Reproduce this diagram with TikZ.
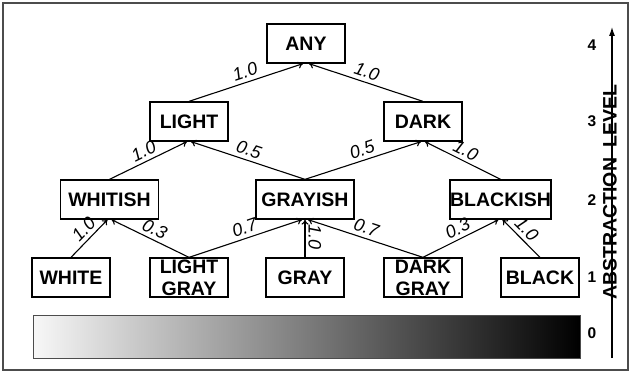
\documentclass[tikz,border=0pt]{standalone}
\usepackage{fontspec}
\setmainfont{Liberation Sans}
\usetikzlibrary{arrows.meta}
\begin{document}
\begin{tikzpicture}[x=1pt,y=1pt,
  box/.style={draw=black,line width=1.3pt,minimum height=39pt,inner sep=0pt,
     font=\fontsize{19.5}{22}\selectfont\bfseries,align=center},
  w78/.style={minimum width=78pt},
  w98/.style={minimum width=98pt},
  w101/.style={minimum width=101pt},
  edge/.style={line width=1.1pt,-{To[length=5pt,width=7pt]}},
  labfont/.style={font=\fontsize{18}{18}\selectfont\itshape},
  lab/.style={labfont,sloped,above,inner sep=3.5pt},
  lvl/.style={font=\fontsize{15.5}{16}\selectfont\bfseries,inner sep=0pt}]
\useasboundingbox (0,0) rectangle (632,373);
\draw[line width=1.4pt,draw=black!70] (3,3) rectangle (628,370);
% nodes (y = 373 - y_img)
\node[box,w78] (any) at (306,329.5) {ANY};
\node[box,w78] (light) at (189,251.5) {LIGHT};
\node[box,w78] (dark) at (423,251.5) {DARK};
\node[box,w98] (whitish) at (109.5,173.5) {WHITISH};
\node[box,w98] (grayish) at (305,173.5) {GRAYISH};
\node[box,w101] (blackish) at (500.5,173.5) {BLACKISH};
\node[box,w78] (white) at (71,95.5) {WHITE};
\node[box,w78] (lgray) at (189,95.5) {LIGHT\\GRAY};
\node[box,w78] (gray) at (305,95.5) {GRAY};
\node[box,w78] (dgray) at (423,95.5) {DARK\\GRAY};
\node[box,w78] (black) at (540,95.5) {BLACK};
% edges
\draw[edge] (light.north) -- ([xshift=-3pt]any.south) node[lab,pos=0.52] {1.0};
\draw[edge] (dark.north) -- ([xshift=3pt]any.south) node[lab,pos=0.52] {1.0};
\draw[edge] (whitish.north) -- ([xshift=-2pt]light.south) node[lab,pos=0.5] {1.0};
\draw[edge] (grayish.north) -- ([xshift=2pt]light.south) node[lab,pos=0.52] {0.5};
\draw[edge] (grayish.north) -- ([xshift=-2pt]dark.south) node[lab,pos=0.52] {0.5};
\draw[edge] (blackish.north) -- ([xshift=2pt]dark.south) node[lab,pos=0.52] {1.0};
\draw[edge] (white.north) -- ([xshift=-2pt]whitish.south) node[lab,pos=0.55] {1.0};
\draw[edge] (lgray.north) -- ([xshift=2pt]whitish.south) node[lab,pos=0.5] {0.3};
\draw[edge] (lgray.north) -- ([xshift=-3pt]grayish.south) node[lab,pos=0.52] {0.7};
\draw[edge] (gray.north) -- (grayish.south) node[pos=0.55,xshift=3pt,rotate=-90,anchor=south,labfont,inner sep=0pt] {1.0};
\draw[edge] (dgray.north) -- ([xshift=3pt]grayish.south) node[lab,pos=0.52] {0.7};
\draw[edge] (dgray.north) -- ([xshift=-2pt]blackish.south) node[lab,pos=0.52] {0.3};
\draw[edge] (black.north) -- ([xshift=2pt]blackish.south) node[lab,pos=0.55] {1.0};
% gradient bar
\shade[left color=black!3,right color=black] (33,15) rectangle (580,58);
\draw[line width=0.8pt,draw=black!70] (33,15) rectangle (580,58);
% levels
\node[lvl] (l4) at (592,327.5) {4};
\node[lvl] (l3) at (592,252) {3};
\node[lvl] (l2) at (592,172.5) {2};
\node[lvl] (l1) at (592,96) {1};
\node[lvl] (l0) at (592,40) {0};
\node[font=\fontsize{19.5}{20}\selectfont\bfseries,rotate=90,inner sep=2pt] (axlab) at (610,181) {ABSTRACTION\ \ LEVEL};
\coordinate (axbot) at (612,15);
\coordinate (axtop) at (612,346);
\draw[line width=1.1pt] (axbot) -- (axbot|-axlab.east);
\draw[line width=1.1pt,-{Latex[length=9pt,width=6pt]}] (axtop|-axlab.west) -- (axtop);
\end{tikzpicture}
\end{document}
